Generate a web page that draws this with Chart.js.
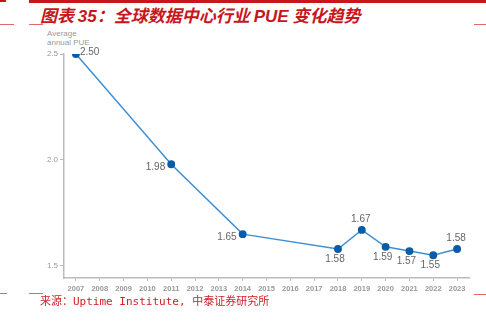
<!DOCTYPE html>
<html>
<head>
<meta charset="utf-8">
<script src="https://cdn.jsdelivr.net/npm/chart.js@4.4.1/dist/chart.umd.min.js"></script>
<style>
  html, body { margin: 0; padding: 0; background: #fff; }
  body { width: 486px; height: 324px; position: relative; overflow: hidden; }
  .bar { position: absolute; background: #c8161d; }
  .thin { position: absolute; height: 1px; background: #e06a6a; }
  #title {
    position: absolute; left: 40px; top: 4px;
    font: italic bold 17px "Noto Sans CJK SC", "Liberation Sans", sans-serif;
    color: #c8161d; white-space: nowrap; line-height: 22px;
  }
  #title .lat { font-family: "Liberation Sans", sans-serif; }
  #ylab {
    position: absolute; left: 47px; top: 29px;
    font: 8px "Liberation Sans", sans-serif; color: #999; line-height: 9px;
  }
  #source {
    position: absolute; left: 40px; top: 294px;
    font: 11px "DejaVu Sans Mono", "Noto Sans CJK SC", monospace;
    color: #d0202a; white-space: nowrap; line-height: 16px;
  }
  #wrap { position: absolute; left: 0; top: 0; width: 486px; height: 324px; }
</style>
</head>
<body>
<div class="bar" style="left:0;top:0;width:6px;height:2px"></div>
<div class="bar" style="left:29px;top:0;width:457px;height:3px"></div>
<div class="thin" style="left:0;top:24px;width:14px"></div>
<div class="thin" style="left:29px;top:24px;width:14px"></div>
<div class="thin" style="left:474px;top:24px;width:12px"></div>
<div id="title">图表 <span class="lat">35</span>：全球数据中心行业 <span class="lat">PUE</span> 变化趋势</div>
<div id="ylab">Average<br>annual PUE</div>
<div id="wrap"><canvas id="chart" width="486" height="324"></canvas></div>
<div class="thin" style="left:0;top:293px;width:7px"></div>
<div class="thin" style="left:29px;top:293px;width:14px"></div>
<div class="thin" style="left:474px;top:294px;width:12px"></div>
<div id="source">来源：Uptime Institute, 中泰证券研究所</div>

<script>
const years = ["2007","2008","2009","2010","2011","2012","2013","2014","2015",
  "2016","2017","2018","2019","2020","2021","2022","2023"]
const pue = [2.50, null, null, null, 1.98, null, null, 1.65, null,
  null, null, 1.58, 1.67, 1.59, 1.57, 1.55, 1.58]
const yTicks = [1.5, 2.0, 2.5]

// where each value label sits relative to its point
const labelSide = {
  "2007": "right", "2011": "left", "2014": "left", "2018": "below",
  "2019": "above", "2020": "below", "2021": "below", "2022": "below", "2023": "above"
}

const valueLabels = {
  id: "valueLabels",
  afterDatasetsDraw(chart) {
    const ctx = chart.ctx
    const meta = chart.getDatasetMeta(0)
    ctx.save()
    ctx.font = "10px 'Liberation Sans', sans-serif"
    ctx.fillStyle = "#666"
    meta.data.forEach((pt, i) => {
      const v = pue[i]
      if (v == null) return
      const side = labelSide[years[i]]
      const txt = v.toFixed(2)
      let x = pt.x, y = pt.y
      if (side === "right") { ctx.textAlign = "left"; x += 4; y -= 2 }
      else if (side === "left") { ctx.textAlign = "right"; x -= 6; y += 3 }
      else if (side === "below") { ctx.textAlign = "center"; x -= 3; y += 10 }
      else { ctx.textAlign = "center"; x -= 1; y -= 11 }
      ctx.textBaseline = "middle"
      ctx.fillText(txt, x, y)
    })
    ctx.restore()
  }
}

new Chart(document.getElementById("chart"), {
  type: "line",
  data: {
    labels: years,
    datasets: [{
      data: pue,
      spanGaps: true,
      borderColor: "#3f8fd2",
      borderWidth: 1.5,
      pointBackgroundColor: "#0a5ca8",
      pointBorderColor: "#0a5ca8",
      pointRadius: 3.2,
      tension: 0
    }]
  },
  options: {
    responsive: false,
    animation: false,
    layout: { padding: { left: 44, right: 17, top: 54, bottom: 30 } },
    plugins: { legend: { display: false }, tooltip: { enabled: false } },
    scales: {
      x: {
        offset: true,
        afterFit(scale) { scale.height = 16 },
        grid: { drawOnChartArea: false, drawTicks: true, tickLength: 3, color: "#bbb", offset: false },
        border: { color: "#bbb", width: 1.5 },
        ticks: {
          color: "#999", padding: 3, maxRotation: 0, autoSkip: false,
          font: { family: "'Liberation Sans', sans-serif", size: 7.5, weight: "bold" }
        }
      },
      y: {
        min: 1.443,
        max: 2.5,
        afterFit(scale) { scale.width = 20 },
        afterBuildTicks(scale) { scale.ticks = yTicks.map(v => ({ value: v })) },
        grid: { drawOnChartArea: false, drawTicks: true, tickLength: 4, color: "#bbb" },
        border: { color: "#bbb", width: 1.5 },
        ticks: {
          color: "#999", padding: 2,
          font: { family: "'Liberation Sans', sans-serif", size: 8 },
          callback: v => Number(v).toFixed(1)
        }
      }
    }
  },
  plugins: [valueLabels]
})
</script>
</body>
</html>
